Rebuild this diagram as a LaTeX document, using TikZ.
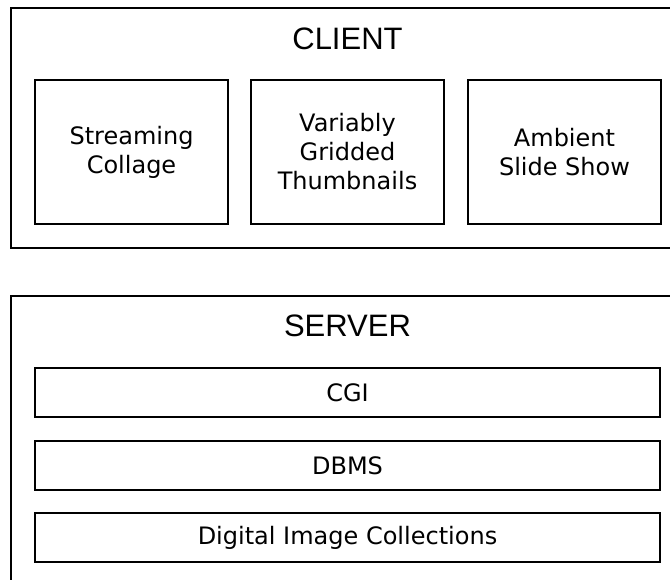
\documentclass[tikz,border=0pt]{standalone}
\usepackage{fontspec}
\newfontfamily\titlefont{Liberation Sans}
\newfontfamily\boxfont{DejaVu Sans}
\usetikzlibrary{positioning}

\begin{document}
\begin{tikzpicture}[x=1pt,y=-1pt,line width=2pt,
    tier/.style={draw,rectangle,minimum width=673pt,inner sep=0pt},
    tier title/.style={font=\titlefont\fontsize{31}{36}\selectfont,inner sep=0pt},
    view box/.style={draw,outer sep=0pt,minimum width=193pt,minimum height=144pt,align=center,
      font=\boxfont\fontsize{24}{29}\selectfont},
    layer box/.style={draw,outer sep=0pt,minimum width=625pt,minimum height=49pt,
      font=\boxfont\fontsize{24}{29}\selectfont} ]
    \useasboundingbox (0,0) rectangle (670,579);
    \clip (0,0) rectangle (670,579);
    % client side
    \node at (347.5,128) [tier,minimum height=240pt] (client) {};
    \node at (347.5,38.5) [tier title] (clienttitle) {CLIENT};
    \node at (131.5,152) [view box] (collage) {Streaming\\Collage};
    \node [view box,right=23pt of collage] (thumbs) {Variably\\Gridded\\Thumbnails};
    \node [view box,right=24pt of thumbs] (slides) {Ambient\\Slide Show};
    % server side
    \node at (347.5,453) [tier,minimum height=314pt] (server) {};
    \node at (347.5,326) [tier title] (servertitle) {SERVER};
    \node at (347.5,392.5) [layer box] (cgi) {CGI};
    \node [layer box,below=24pt of cgi] (dbms) {DBMS};
    \node [layer box,below=23pt of dbms] (images) {Digital Image Collections};
\end{tikzpicture}
\end{document}
